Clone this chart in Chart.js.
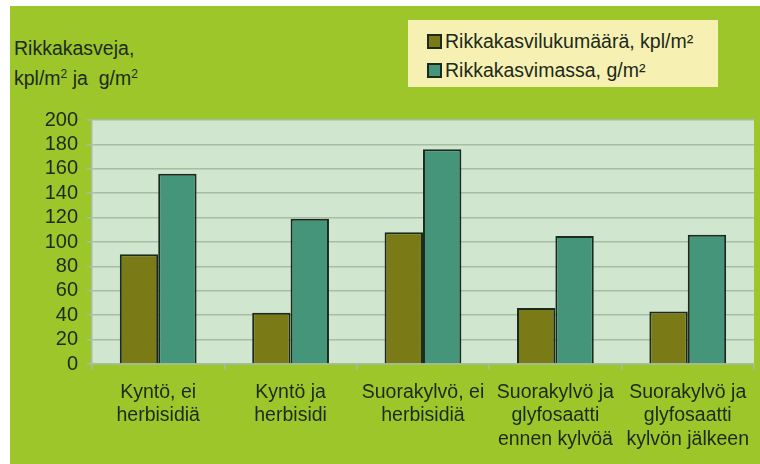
<!DOCTYPE html>
<html>
<head>
<meta charset="utf-8">
<script src="https://cdn.jsdelivr.net/npm/chart.js@4/dist/chart.umd.min.js"></script>
<style>
    body { margin: 0; background: #fff; font-family: 'Liberation Sans', Arial, sans-serif; }
    #wrap { position: absolute; left: 10px; top: 6px; width: 750px; height: 458px; background: #9cc629; }
    #yTitle { position: absolute; left: 4px; top: 27px; font-size: 19.5px; line-height: 30px; color: #1d2a1a; }
    #yTitle sup { font-size: 12px; vertical-align: 7px; line-height: 0; }
    #legend { position: absolute; left: 398px; top: 14px; width: 310px; height: 67px; background: #f6f0b3;
              box-sizing: border-box; padding: 7px 0 0 19px; font-size: 19.5px; color: #1d2a1a; }
    #legend div { height: 29px; line-height: 29px; white-space: nowrap; }
    #legend span.box { display: inline-block; width: 11px; height: 11px; border: 2px solid #1b2a1c;
                       margin-right: 3px; vertical-align: -1px; }
    canvas { position: absolute; left: 0; top: 0; }
</style>
</head>
<body>
<div id="wrap">
    <div id="yTitle">Rikkakasveja,<br>kpl/m<sup>2</sup> ja&nbsp; g/m<sup>2</sup></div>
    <div id="legend"></div>
    <canvas id="weedChart" width="750" height="458"></canvas>
</div>
<script>
// --- DATA ---
const categories = [
    ['Kyntö, ei', 'herbisidiä'],
    ['Kyntö ja', 'herbisidi'],
    ['Suorakylvö, ei', 'herbisidiä'],
    ['Suorakylvö ja', 'glyfosaatti', 'ennen kylvöä'],
    ['Suorakylvö ja', 'glyfosaatti', 'kylvön jälkeen']
];
const weedCount = [90, 42, 108, 46, 43];   // kpl/m²
const weedMass = [156, 119, 176, 105, 106]; // g/m²
const yTicks = [0, 20, 40, 60, 80, 100, 120, 140, 160, 180, 200];

const seriesLabels = ['Rikkakasvilukumäärä, kpl/m²', 'Rikkakasvimassa, g/m²'];

// --- THEME ---
const THEME = {
    olive: '#7a7a17',
    teal: '#44957a',
    border: '#1b2a1c',
    plotBg: '#d1e6cf',
    grid: '#a7bca4',
    font: '#1d2a1a'
};

// light plot background behind the bars
const plotBgPlugin = {
    id: 'plotBg',
    beforeDraw(chart) {
        const { ctx, chartArea: a } = chart;
        ctx.save();
        ctx.fillStyle = THEME.plotBg;
        ctx.fillRect(a.left, a.top, a.right - a.left, a.bottom - a.top);
        ctx.restore();
    }
};

const ctx = document.getElementById('weedChart').getContext('2d');
const weedChart = new Chart(ctx, {
    type: 'bar',
    data: {
        labels: categories,
        datasets: [
            {
                label: seriesLabels[0],
                data: weedCount,
                backgroundColor: THEME.olive,
                borderColor: THEME.border,
                borderWidth: 2
            },
            {
                label: seriesLabels[1],
                data: weedMass,
                backgroundColor: THEME.teal,
                borderColor: THEME.border,
                borderWidth: 2
            }
        ]
    },
    options: {
        responsive: false,
        animation: false,
        layout: { padding: { top: 114, right: 0, left: 0, bottom: 0 } },
        datasets: { bar: { categoryPercentage: 0.58, barPercentage: 1.0 } },
        scales: {
            x: {
                grid: { color: THEME.grid, lineWidth: 1.5, drawOnChartArea: false, tickLength: 6, offset: true },
                border: { color: THEME.grid, width: 1.5 },
                ticks: {
                    color: THEME.font,
                    font: { size: 19.5, family: "'Liberation Sans', Arial, sans-serif", lineHeight: 1.2 },
                    padding: 11,
                    maxRotation: 0,
                    autoSkip: false
                },
                afterFit(scale) { scale.height = 100; }
            },
            y: {
                min: 0,
                max: 200,
                afterBuildTicks(scale) { scale.ticks = yTicks.map(v => ({ value: v })); },
                grid: { color: THEME.grid, lineWidth: 1.5, tickLength: 5 },
                border: { color: THEME.grid, width: 1.5 },
                ticks: {
                    color: THEME.font,
                    font: { size: 20, family: "'Liberation Sans', Arial, sans-serif" },
                    padding: 9,
                    autoSkip: false
                },
                afterFit(scale) { scale.width = 82; }
            }
        },
        plugins: {
            legend: { display: false },
            tooltip: { enabled: false }
        }
    },
    plugins: [plotBgPlugin]
});

// HTML legend built from the datasets
const legendEl = document.getElementById('legend');
weedChart.data.datasets.forEach(ds => {
    const row = document.createElement('div');
    const box = document.createElement('span');
    box.className = 'box';
    box.style.background = ds.backgroundColor;
    row.appendChild(box);
    row.appendChild(document.createTextNode(ds.label));
    legendEl.appendChild(row);
});
</script>
</body>
</html>
